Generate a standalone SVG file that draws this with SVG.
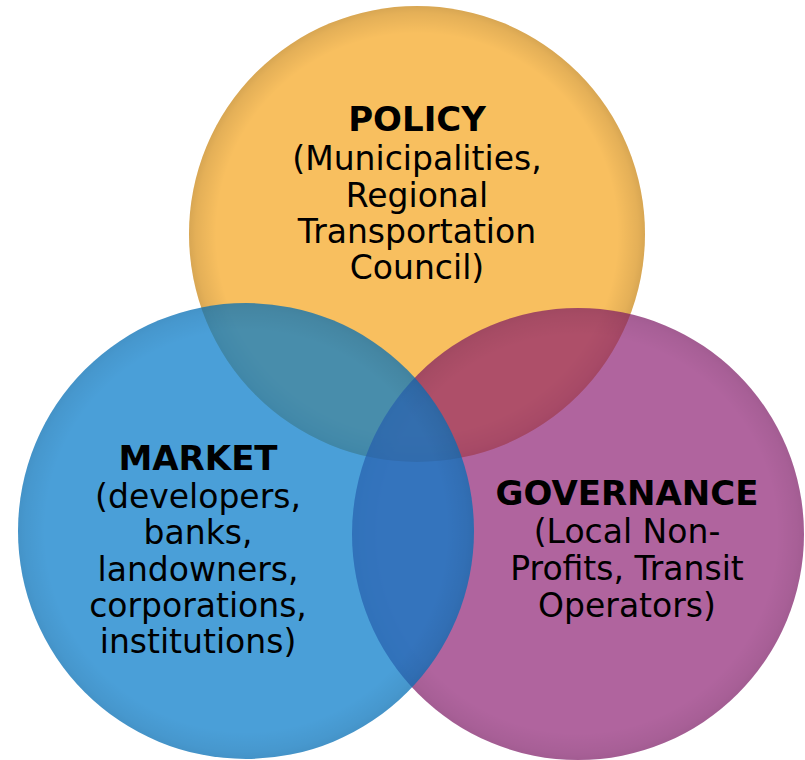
<svg xmlns="http://www.w3.org/2000/svg" width="805" height="760" viewBox="0 0 805 760">
<defs>
<radialGradient id="rim" cx="0.5" cy="0.5" r="0.5">
<stop offset="0.88" stop-color="#000" stop-opacity="0"/>
<stop offset="0.97" stop-color="#000" stop-opacity="0.08"/>
<stop offset="1" stop-color="#000" stop-opacity="0.13"/>
</radialGradient>
<style>
.t{font-family:"DejaVu Sans","Verdana",sans-serif;font-size:33px;fill:#000;text-anchor:middle}
.b{font-weight:bold;font-size:34px}
</style>
</defs>
<rect width="805" height="760" fill="#fff"/>
<g id="policy">
<circle cx="417" cy="234" r="228" fill="#F8BF5F"/>
<circle cx="417" cy="234" r="228" fill="url(#rim)"/>
</g>
<g id="governance">
<circle cx="578" cy="534" r="226" fill="rgb(137,24,110)" fill-opacity="0.67"/>
<circle cx="578" cy="534" r="226" fill="url(#rim)" opacity="0.6"/>
</g>
<g id="market">
<circle cx="246" cy="531" r="228" fill="rgb(4,122,201)" fill-opacity="0.72"/>
<circle cx="246" cy="531" r="228" fill="url(#rim)" opacity="0.6"/>
</g>
<g id="connectors"/>
<g id="labels">
<text class="t b" x="417" y="131">POLICY</text>
<text class="t" x="417" y="170">(Municipalities,</text>
<text class="t" x="417" y="207">Regional</text>
<text class="t" x="417" y="243">Transportation</text>
<text class="t" x="417" y="279">Council)</text>
<text class="t b" x="198" y="470">MARKET</text>
<text class="t" x="198" y="508">(developers,</text>
<text class="t" x="198" y="544">banks,</text>
<text class="t" x="198" y="581">landowners,</text>
<text class="t" x="198" y="617">corporations,</text>
<text class="t" x="198" y="653">institutions)</text>
<text class="t b" x="627" y="505">GOVERNANCE</text>
<text class="t" x="627" y="543">(Local Non-</text>
<text class="t" x="627" y="580">Profits, Transit</text>
<text class="t" x="627" y="617">Operators)</text>
</g>
</svg>
